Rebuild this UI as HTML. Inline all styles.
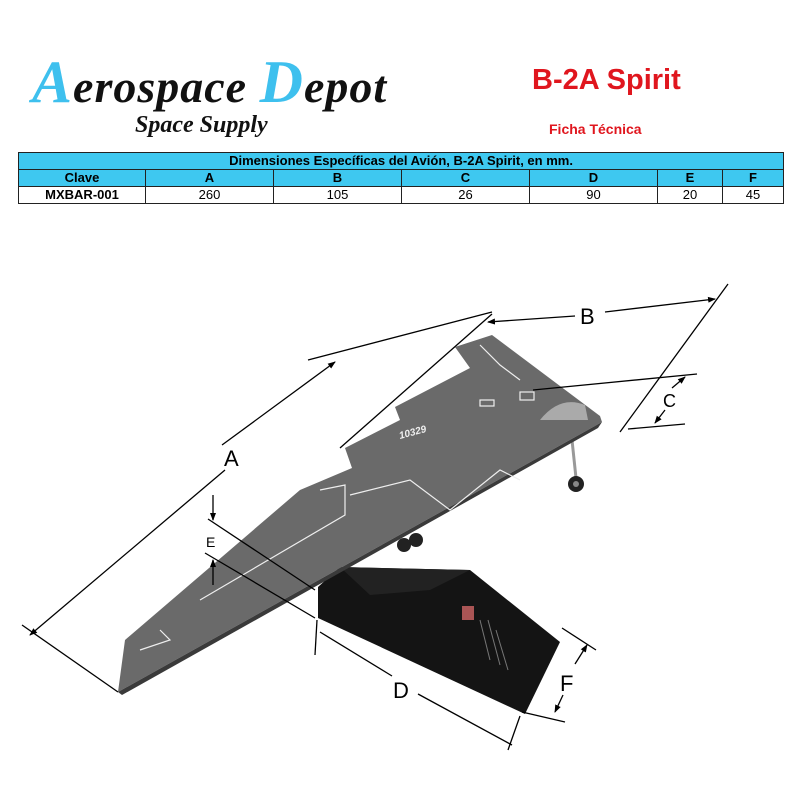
<!DOCTYPE html>
<html><head><meta charset="utf-8"><style>
body{margin:0;width:800px;height:800px;background:#fff;overflow:hidden;position:relative;font-family:"Liberation Sans",Arial,sans-serif}
.abs{position:absolute}
table{position:absolute;left:18px;top:152px;width:766px;border-collapse:collapse;font-size:13px;}
td{border:1px solid #222;text-align:center;padding:0;height:16px;line-height:16px}
.cy{background:#3ec8f0;font-weight:bold}
</style></head><body>
<div class="abs" style="left:32px;top:48px;font-family:'Liberation Serif',serif;font-style:italic;font-weight:bold;font-size:46px;color:#111;letter-spacing:1px"><span style="color:#3ec0ee;font-size:60px">A</span>erospace <span style="color:#3ec0ee;font-size:60px">D</span>epot</div>
<div class="abs" style="left:135px;top:112px;font-family:'Liberation Serif',serif;font-style:italic;font-weight:bold;font-size:24px;color:#111">Space Supply</div>
<div class="abs" style="left:532px;top:64px;font-weight:bold;font-size:29px;color:#e0161e">B-2A Spirit</div>
<div class="abs" style="left:549px;top:121px;font-weight:bold;font-size:14px;color:#e0161e">Ficha Técnica</div>
<table>
<tr><td class="cy" colspan="7">Dimensiones Específicas del Avión, B-2A Spirit, en mm.</td></tr>
<tr class="cy"><td style="width:126px">Clave</td><td style="width:127px">A</td><td style="width:127px">B</td><td style="width:127px">C</td><td style="width:127px">D</td><td style="width:64px">E</td><td>F</td></tr>
<tr><td style="font-weight:bold">MXBAR-001</td><td>260</td><td>105</td><td>26</td><td>90</td><td>20</td><td>45</td></tr>
</table>
<svg class="abs" style="left:0;top:0" width="800" height="800">
<defs><marker id="ar" markerWidth="8" markerHeight="8" refX="7" refY="4" orient="auto" markerUnits="userSpaceOnUse"><path d="M0,1 L8,4 L0,7 z" fill="#000"/></marker></defs>
<polygon points="318,587 340,567 470,570 560,642 525,714 318,618" fill="#141414"/>
<polygon points="340,567 470,570 430,590 370,595" fill="#222"/>
<rect x="462" y="606" width="12" height="14" fill="#a55"/>
<g stroke="#777" stroke-width="1"><line x1="480" y1="620" x2="490" y2="660"/><line x1="488" y1="620" x2="500" y2="665"/><line x1="496" y1="630" x2="508" y2="670"/></g>
<line x1="572" y1="440" x2="576" y2="478" stroke="#999" stroke-width="3"/>
<circle cx="576" cy="484" r="8" fill="#222"/><circle cx="576" cy="484" r="3" fill="#888"/>
<circle cx="404" cy="545" r="7" fill="#222"/><circle cx="416" cy="540" r="7" fill="#222"/>
<polygon points="118,692 602,422 600,416 492,335 455,347 470,368 395,407 400,420 345,448 352,468 300,490 125,640" fill="#6a6a6a"/>
<polygon points="118,692 602,422 598,428 122,695" fill="#3a3a3a"/>
<g fill="none" stroke="#eee" stroke-width="1.2">
<polyline points="160,630 170,640 140,650"/><polyline points="320,490 345,485 345,515 200,600"/>
<polyline points="350,495 410,480 450,510 500,470 520,480"/><polyline points="480,345 500,365 520,380"/>
<rect x="520" y="392" width="14" height="8"/><rect x="480" y="400" width="14" height="6"/>
</g>
<path d="M540,420 Q560,395 585,405 L588,420 Z" fill="#aaa"/>
<text x="400" y="439" font-size="10" font-weight="bold" font-style="italic" fill="#eee" transform="rotate(-15 400 439)">10329</text>
<g stroke="#000" stroke-width="1.3" fill="none">
<line x1="308" y1="360" x2="492" y2="312"/><line x1="22" y1="625" x2="118" y2="692"/>
<line x1="222" y1="445" x2="335" y2="362" marker-end="url(#ar)"/><line x1="225" y1="470" x2="30" y2="635" marker-end="url(#ar)"/>
<line x1="340" y1="448" x2="492" y2="314"/><line x1="620" y1="432" x2="728" y2="284"/>
<line x1="575" y1="316" x2="488" y2="322" marker-end="url(#ar)"/><line x1="605" y1="312" x2="715" y2="299" marker-end="url(#ar)"/>
<line x1="533" y1="390" x2="697" y2="374"/><line x1="628" y1="429" x2="685" y2="424"/>
<line x1="672" y1="388" x2="685" y2="377" marker-end="url(#ar)"/><line x1="665" y1="410" x2="655" y2="423" marker-end="url(#ar)"/>
<line x1="213" y1="495" x2="213" y2="520" marker-end="url(#ar)"/><line x1="213" y1="585" x2="213" y2="560" marker-end="url(#ar)"/>
<line x1="208" y1="519" x2="315" y2="590"/><line x1="205" y1="553" x2="315" y2="618"/>
<line x1="317" y1="620" x2="315" y2="655"/><line x1="320" y1="632" x2="392" y2="676"/><line x1="418" y1="694" x2="512" y2="745"/>
<line x1="520" y1="716" x2="508" y2="750"/>
<line x1="562" y1="628" x2="596" y2="650"/><line x1="522" y1="712" x2="565" y2="722"/>
<line x1="575" y1="664" x2="587" y2="645" marker-end="url(#ar)"/><line x1="563" y1="695" x2="555" y2="712" marker-end="url(#ar)"/>
</g>
<g font-size="22" fill="#000" font-family="Liberation Sans, sans-serif">
<text x="224" y="466">A</text><text x="580" y="324">B</text><text x="663" y="407" font-size="18">C</text>
<text x="206" y="547" font-size="14">E</text><text x="393" y="698">D</text><text x="560" y="691">F</text>
</g>
</svg>
</body></html>
